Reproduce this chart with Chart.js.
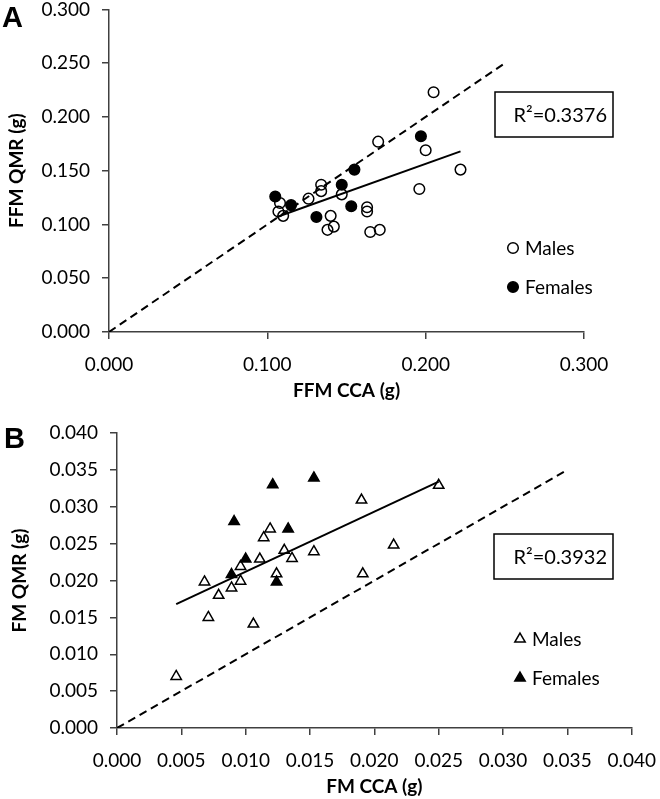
<!DOCTYPE html>
<html>
<head>
<meta charset="utf-8">
<script src="https://cdn.jsdelivr.net/npm/chart.js@4/dist/chart.umd.min.js"></script>
<style>
  body { margin: 0; background: #fff; }
  #wrap { position: relative; width: 660px; height: 799px; overflow: hidden; }
  canvas { position: absolute; left: 0; }
</style>
</head>
<body>
<div id="wrap">
  <canvas id="chartA" width="660" height="416" style="top:-14px"></canvas>
  <canvas id="chartB" width="670" height="397" style="top:402px"></canvas>
</div>
<script>
// panel A: fat free mass
var ffmMaleCca = [0.205, 0.170, 0.200, 0.222, 0.196, 0.134, 0.134, 0.126, 0.147, 0.108, 0.107, 0.110, 0.163, 0.163, 0.140, 0.142, 0.138, 0.165, 0.171];
var ffmMaleQmr = [0.223, 0.177, 0.169, 0.151, 0.133, 0.137, 0.131, 0.124, 0.128, 0.120, 0.112, 0.108, 0.116, 0.112, 0.108, 0.098, 0.095, 0.093, 0.095];
var ffmFemaleCca = [0.105, 0.115, 0.155, 0.147, 0.153, 0.131, 0.197];
var ffmFemaleQmr = [0.126, 0.118, 0.151, 0.137, 0.117, 0.107, 0.182];
var ffmFitX = [0.106, 0.222];
var ffmFitY = [0.107, 0.168];
var ffmIdentity = [0, 0.25];
var ffmR2 = "R\u00b2=0.3376";

// panel B: fat mass
var fmMaleCca = [0.0046, 0.0068, 0.0079, 0.0071, 0.0106, 0.0089, 0.0096, 0.0096, 0.0111, 0.0114, 0.0119, 0.0130, 0.0136, 0.0124, 0.0153, 0.0190, 0.0191, 0.0215, 0.0250];
var fmMaleQmr = [0.0070, 0.0198, 0.0180, 0.0150, 0.0141, 0.0190, 0.0199, 0.0219, 0.0229, 0.0258, 0.0270, 0.0241, 0.0230, 0.0209, 0.0239, 0.0309, 0.0209, 0.0248, 0.0329];
var fmFemaleCca = [0.0091, 0.0121, 0.0153, 0.0133, 0.0100, 0.0089, 0.0124];
var fmFemaleQmr = [0.0280, 0.0330, 0.0339, 0.0270, 0.0229, 0.0208, 0.0198];
var fmFitX = [0.0046, 0.0250];
var fmFitY = [0.0168, 0.0334];
var fmIdentity = [0, 0.035];
var fmR2 = "R\u00b2=0.3932";

var FONT = "Lato";
var AXIS = "#404040";

function toPoints(xs, ys) {
  return xs.map((x, i) => ({ x: x, y: ys[i] }));
}

// letter, R² box and legend, given in page coordinates
var notesPlugin = {
  id: "notes",
  afterDraw(chart, args, o) {
    const ctx = chart.ctx;
    ctx.save();
    ctx.translate(0, -o.top);
    ctx.fillStyle = "#000";
    ctx.font = "bold 29px 'Liberation Sans'";
    ctx.textAlign = "left";
    ctx.textBaseline = "alphabetic";
    ctx.fillText(o.letter, o.letterX, o.letterY);

    ctx.strokeStyle = "#000";
    ctx.lineWidth = 1.5;
    ctx.strokeRect(o.box[0], o.box[1], o.box[2], o.box[3]);
    ctx.font = "20px " + FONT;
    ctx.textAlign = "right";
    ctx.textBaseline = "middle";
    ctx.fillText(o.r2, o.box[0] + o.box[2] - 6, o.box[1] + o.box[3] / 2 + 1);

    ctx.font = "19px " + FONT;
    ctx.textAlign = "left";
    o.legend.forEach((dsIndex, i) => {
      const ds = chart.data.datasets[dsIndex];
      const y = o.legendY[i];
      ctx.fillStyle = ds.backgroundColor;
      ctx.strokeStyle = ds.borderColor;
      ctx.lineWidth = ds.borderWidth;
      Chart.helpers.drawPoint(ctx, { pointStyle: ds.pointStyle, radius: ds.pointRadius, borderWidth: ds.borderWidth, rotation: 0 }, o.legendX, y);
      ctx.fillStyle = "#000";
      ctx.fillText(ds.label, o.legendX + 12, y + 1);
    });
    ctx.restore();
  }
};

function makeScale(min, max, step, title, tickPad, titlePad, size) {
  return {
    type: "linear",
    min: min,
    max: max,
    ticks: { stepSize: step, color: "#000", padding: tickPad, font: { family: FONT, size: 19 }, callback: v => Number(v).toFixed(3) },
    grid: { drawOnChartArea: false, color: AXIS, lineWidth: 1.5, tickLength: 7 },
    border: { color: AXIS, width: 1.5 },
    title: { display: true, text: title, color: "#000", padding: titlePad, font: { family: FONT, size: 19, weight: "bold" } },
    afterFit: s => { if (s.isHorizontal()) { s.height = size; } else { s.width = size; } }
  };
}

function makeChart(id, d) {
  return new Chart(document.getElementById(id), {
    type: "scatter",
    data: {
      datasets: [
        { data: toPoints(d.identity, d.identity), showLine: true, borderColor: "#000", borderWidth: 2, borderDash: [8, 5], pointRadius: 0, order: 3 },
        { data: toPoints(d.fitX, d.fitY), showLine: true, borderColor: "#000", borderWidth: 2, pointRadius: 0, order: 2 },
        { label: "Males", data: toPoints(d.maleX, d.maleY), pointStyle: d.style, pointRadius: d.radius, backgroundColor: "rgba(255,255,255,0)", borderColor: "#000", borderWidth: 1.5, order: 1 },
        { label: "Females", data: toPoints(d.femaleX, d.femaleY), pointStyle: d.style, pointRadius: d.radius, backgroundColor: "#000", borderColor: "#000", borderWidth: 1.5, order: 0 }
      ]
    },
    options: {
      responsive: false,
      animation: false,
      layout: { padding: d.padding },
      plugins: {
        legend: { display: false },
        tooltip: { enabled: false },
        notes: d.notes
      },
      scales: {
        x: makeScale(0, d.max, d.step, d.xTitle, 14, 0, 70),
        y: makeScale(0, d.max, d.yStep, d.yTitle, 12, { top: d.yTitlePad, bottom: 0 }, d.yWidth)
      }
    },
    plugins: [notesPlugin]
  });
}

makeChart("chartA", {
  maleX: ffmMaleCca, maleY: ffmMaleQmr, femaleX: ffmFemaleCca, femaleY: ffmFemaleQmr,
  fitX: ffmFitX, fitY: ffmFitY, identity: ffmIdentity,
  style: "circle", radius: 5.3,
  max: 0.3, step: 0.1, yStep: 0.05,
  xTitle: "FFM CCA (g)", yTitle: "FFM QMR (g)", yTitlePad: 5, yWidth: 109,
  padding: { left: 0, right: 76, top: 9, bottom: 0 },
  notes: { top: -14, letter: "A", letterX: 2, letterY: 27, r2: ffmR2, box: [495, 92, 118, 45],
           legend: [2, 3], legendX: 513, legendY: [248, 287] }
});

makeChart("chartB", {
  maleX: fmMaleCca, maleY: fmMaleQmr, femaleX: fmFemaleCca, femaleY: fmFemaleQmr,
  fitX: fmFitX, fitY: fmFitY, identity: fmIdentity,
  style: "triangle", radius: 6,
  max: 0.04, step: 0.005, yStep: 0.005,
  xTitle: "FM CCA (g)", yTitle: "FM QMR (g)", yTitlePad: 8, yWidth: 117,
  padding: { left: 0, right: 0, top: 31, bottom: 1 },
  notes: { top: 402, letter: "B", letterX: 4, letterY: 448, r2: fmR2, box: [494, 534, 119, 45],
           legend: [2, 3], legendX: 520, legendY: [639, 678] }
});
</script>
</body>
</html>
